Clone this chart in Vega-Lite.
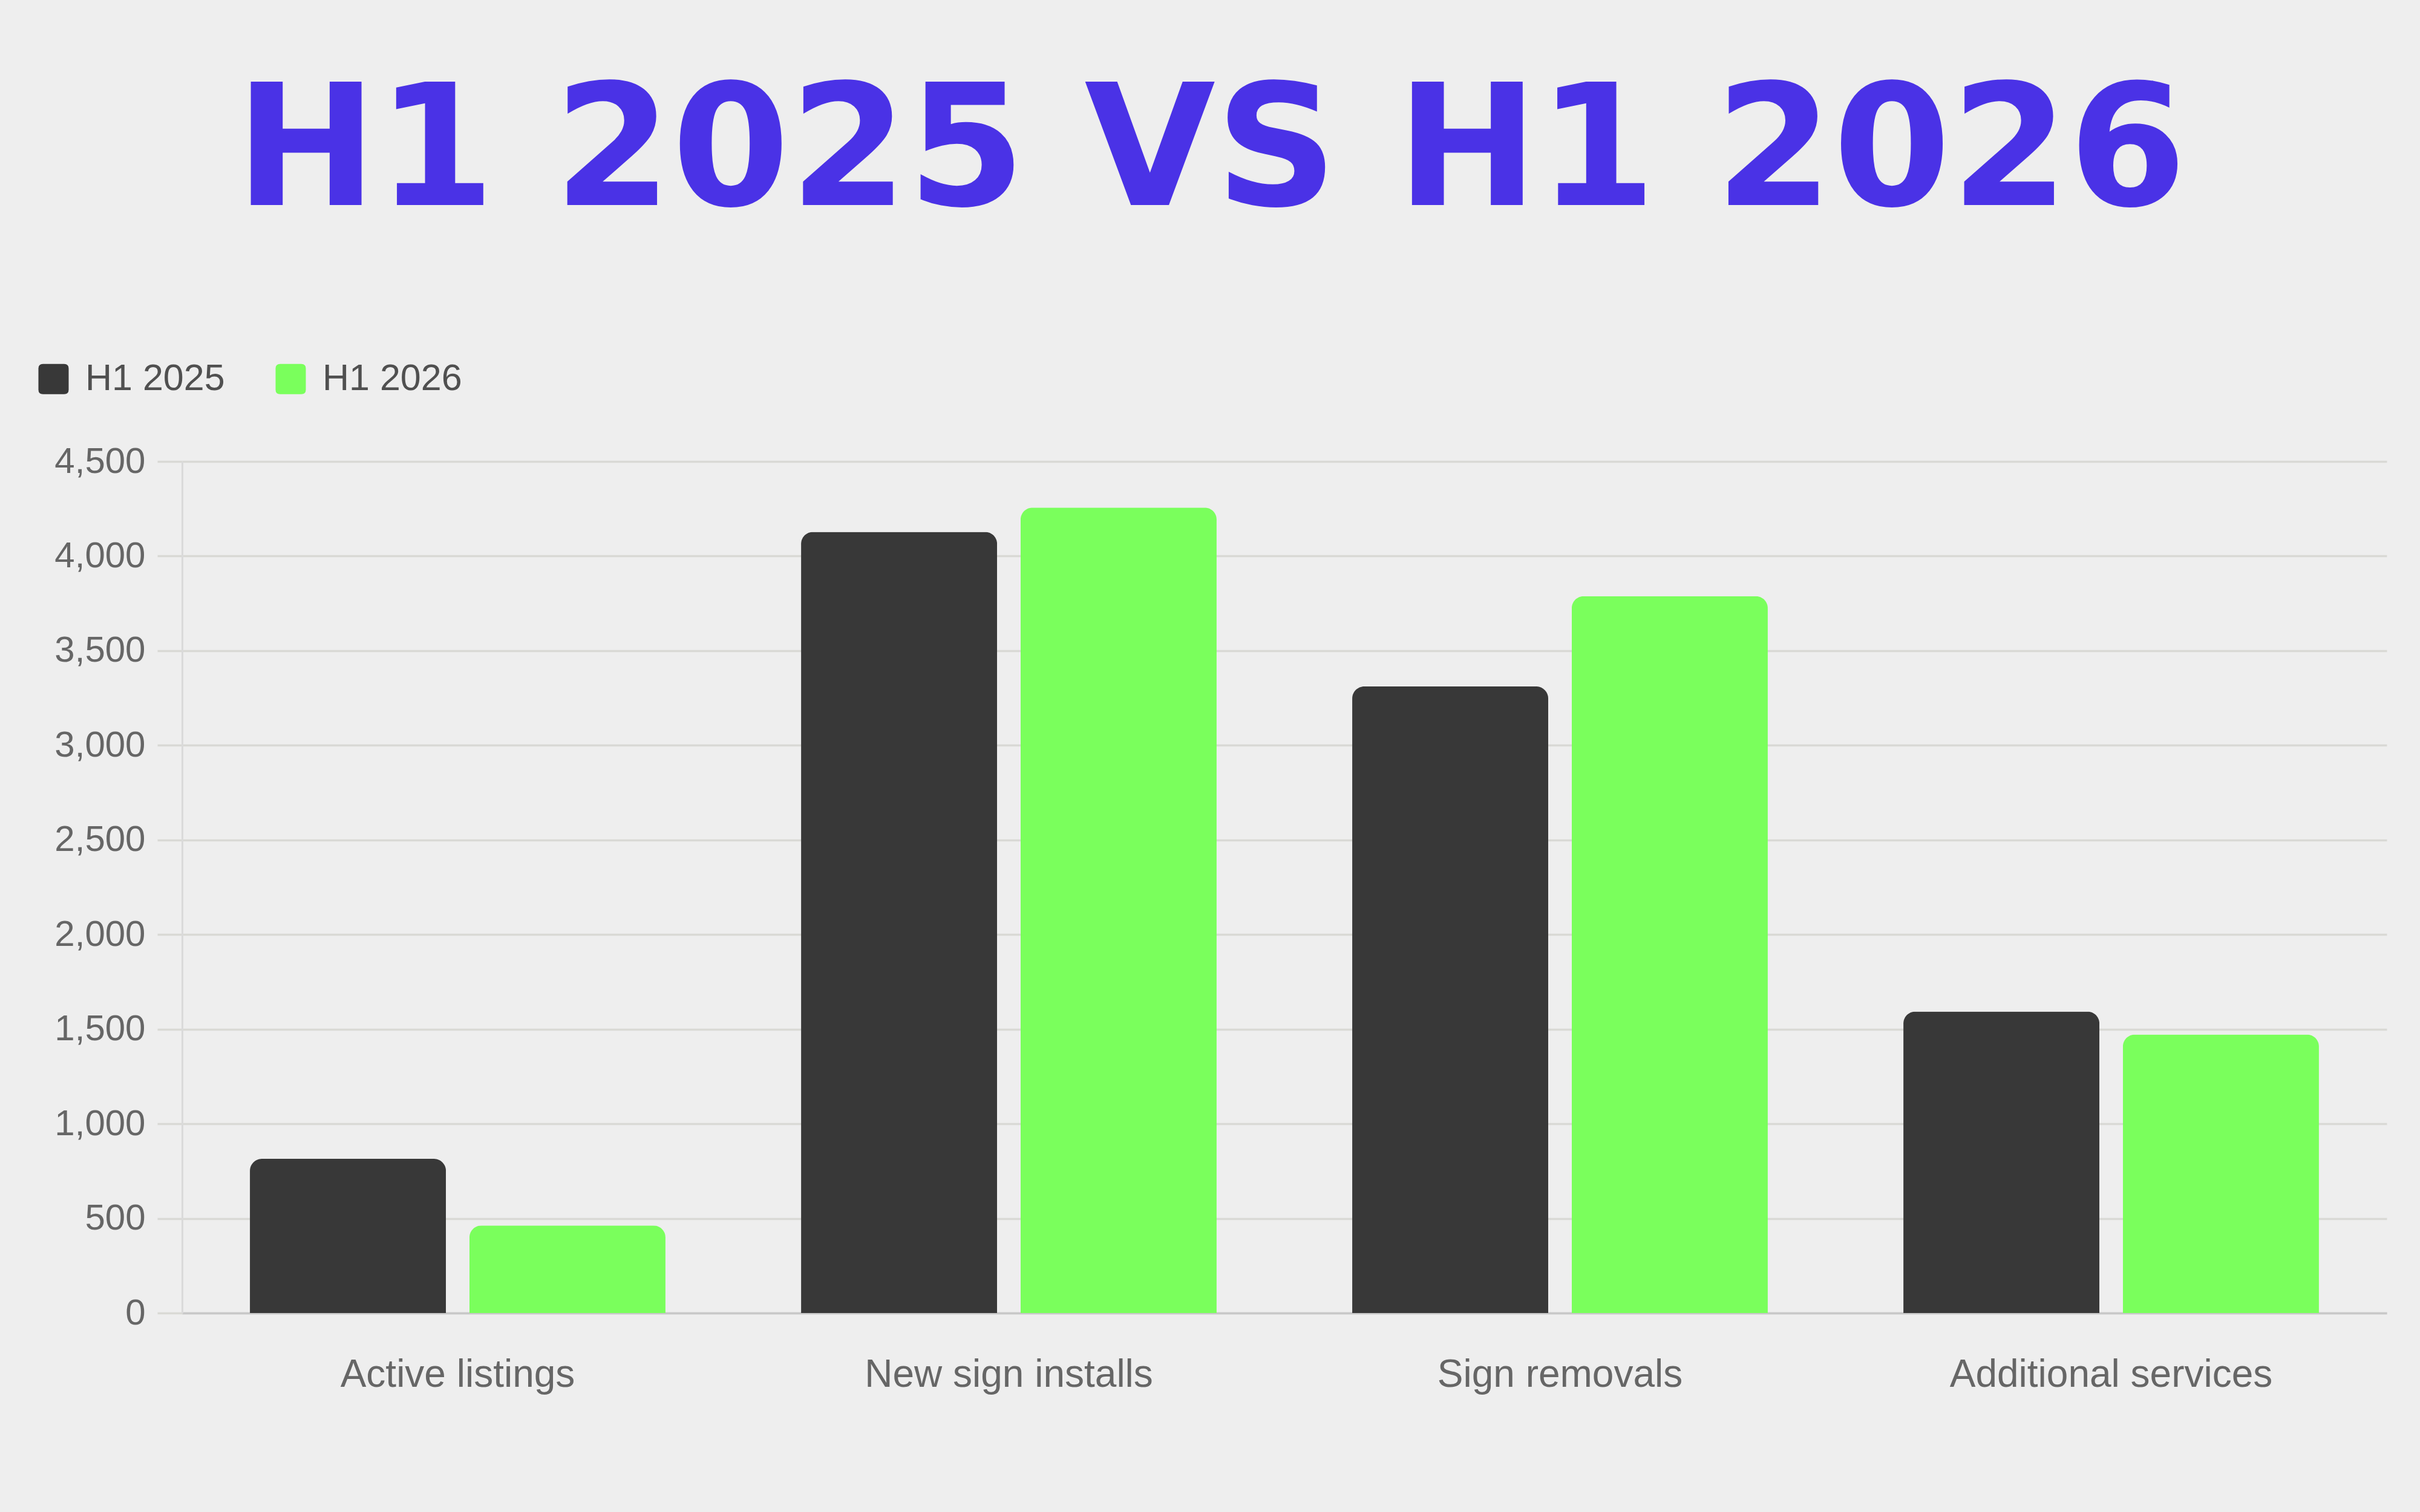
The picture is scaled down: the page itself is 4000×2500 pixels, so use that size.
{
  "$schema": "https://vega.github.io/schema/vega-lite/v6.json",
  "autosize": {"type": "none"},
  "width": 3644,
  "height": 1408,
  "padding": {"left": 301, "top": 763, "right": 55, "bottom": 329},
  "background": "#EEEEEE",
  "title": {
    "text": "H1 2025 VS H1 2026",
    "font": "DejaVu Sans",
    "fontWeight": "bold",
    "fontSize": 280,
    "color": "#4A32E6",
    "anchor": "middle",
    "frame": "bounds",
    "baseline": "alphabetic",
    "offset": -23,
    "limit": 0
  },
  "data": {
    "values": [
      {"category": "Active listings", "period": "H1 2025", "value": 815},
      {"category": "Active listings", "period": "H1 2026", "value": 463},
      {"category": "New sign installs", "period": "H1 2025", "value": 4128},
      {"category": "New sign installs", "period": "H1 2026", "value": 4256},
      {"category": "Sign removals", "period": "H1 2025", "value": 3311},
      {"category": "Sign removals", "period": "H1 2026", "value": 3788},
      {"category": "Additional services", "period": "H1 2025", "value": 1593},
      {"category": "Additional services", "period": "H1 2026", "value": 1472}
    ]
  },
  "mark": {"type": "bar", "cornerRadiusTopLeft": 20, "cornerRadiusTopRight": 20},
  "encoding": {
    "x": {
      "field": "category",
      "type": "nominal",
      "sort": ["Active listings", "New sign installs", "Sign removals", "Additional services"],
      "scale": {"paddingInner": 0.246, "paddingOuter": 0.123},
      "axis": {
        "title": null,
        "labelAngle": 0,
        "ticks": false,
        "labelFont": "Liberation Sans",
        "labelFontSize": 64,
        "labelColor": "#666666",
        "labelPadding": 70,
        "labelLimit": 0,
        "domainColor": "#C8C8C8",
        "domainWidth": 3.5,
        "grid": false
      }
    },
    "xOffset": {
      "field": "period",
      "type": "nominal",
      "sort": ["H1 2025", "H1 2026"],
      "scale": {"paddingInner": 0.107, "paddingOuter": 0}
    },
    "y": {
      "field": "value",
      "type": "quantitative",
      "scale": {"domain": [0, 4500], "nice": false},
      "axis": {
        "title": null,
        "values": [0, 500, 1000, 1500, 2000, 2500, 3000, 3500, 4000, 4500],
        "format": ",.0f",
        "labelFont": "Liberation Sans",
        "labelFontSize": 60,
        "labelColor": "#666666",
        "labelPadding": 20,
        "labelLimit": 0,
        "tickSize": 41,
        "tickColor": "#D9D9D5",
        "tickWidth": 3.5,
        "grid": true,
        "gridColor": "#D9D9D5",
        "gridWidth": 3.5,
        "domainColor": "#DADADA",
        "domainWidth": 3
      }
    },
    "color": {
      "field": "period",
      "type": "nominal",
      "scale": {"domain": ["H1 2025", "H1 2026"], "range": ["#383838", "#7AFF5C"]},
      "legend": {
        "title": null,
        "orient": "none",
        "legendX": -243,
        "legendY": -167,
        "direction": "horizontal",
        "padding": 0,
        "symbolType": "M-0.7,-1H0.7Q1,-1 1,-0.7V0.7Q1,1 0.7,1H-0.7Q-1,1 -1,0.7V-0.7Q-1,-1 -0.7,-1Z",
        "symbolSize": 2500,
        "symbolStrokeWidth": 0,
        "symbolOpacity": 1,
        "labelFont": "Liberation Sans",
        "labelFontSize": 61,
        "labelColor": "#505050",
        "labelOffset": 22,
        "labelLimit": 0,
        "columnPadding": 78
      }
    }
  },
  "config": {"view": {"stroke": null}}
}
